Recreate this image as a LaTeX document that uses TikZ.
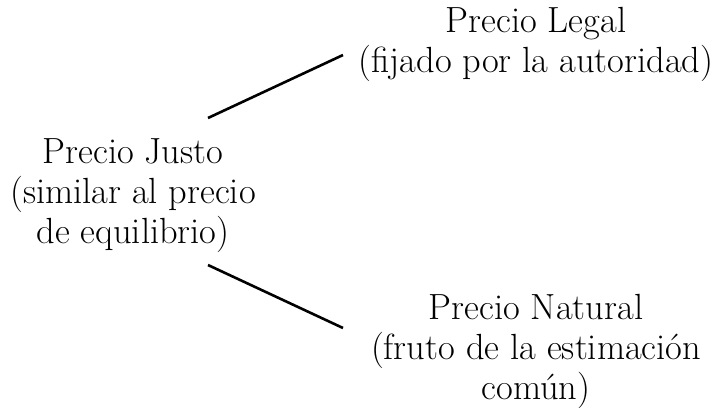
\documentclass[tikz,border=0pt]{standalone}
\usepackage{tikz}
\usetikzlibrary{calc,positioning}
\tikzset{
  precio/.style={align=center, inner sep=0pt, anchor=base,
    font=\fontsize{18.2}{20}\selectfont},
  rama/.style={line width=1.3pt}
}

\begin{document}
\begin{tikzpicture}[x=0.5pt,y=-0.5pt]
  \useasboundingbox (0,0) rectangle (714,408);
  % anchor=base sits on the last line
  \node[precio](justo) at (133,243)
    {Precio Justo\\(similar al precio\\de equilibrio)};
  \node[precio](legal) at (536,72)
    {Precio Legal\\(fijado por la autoridad)};
  \node[precio](natural) at (536,399)
    {Precio Natural\\(fruto de la estimación\\común)};
  \coordinate(J1) at (208,118);
  \coordinate(L1) at (343,55);
  \coordinate(J2) at (208,265);
  \coordinate(N1) at (343,328);
  \draw[rama](J1)--(L1);
  \draw[rama](J2)--(N1);
\end{tikzpicture}
\end{document}
